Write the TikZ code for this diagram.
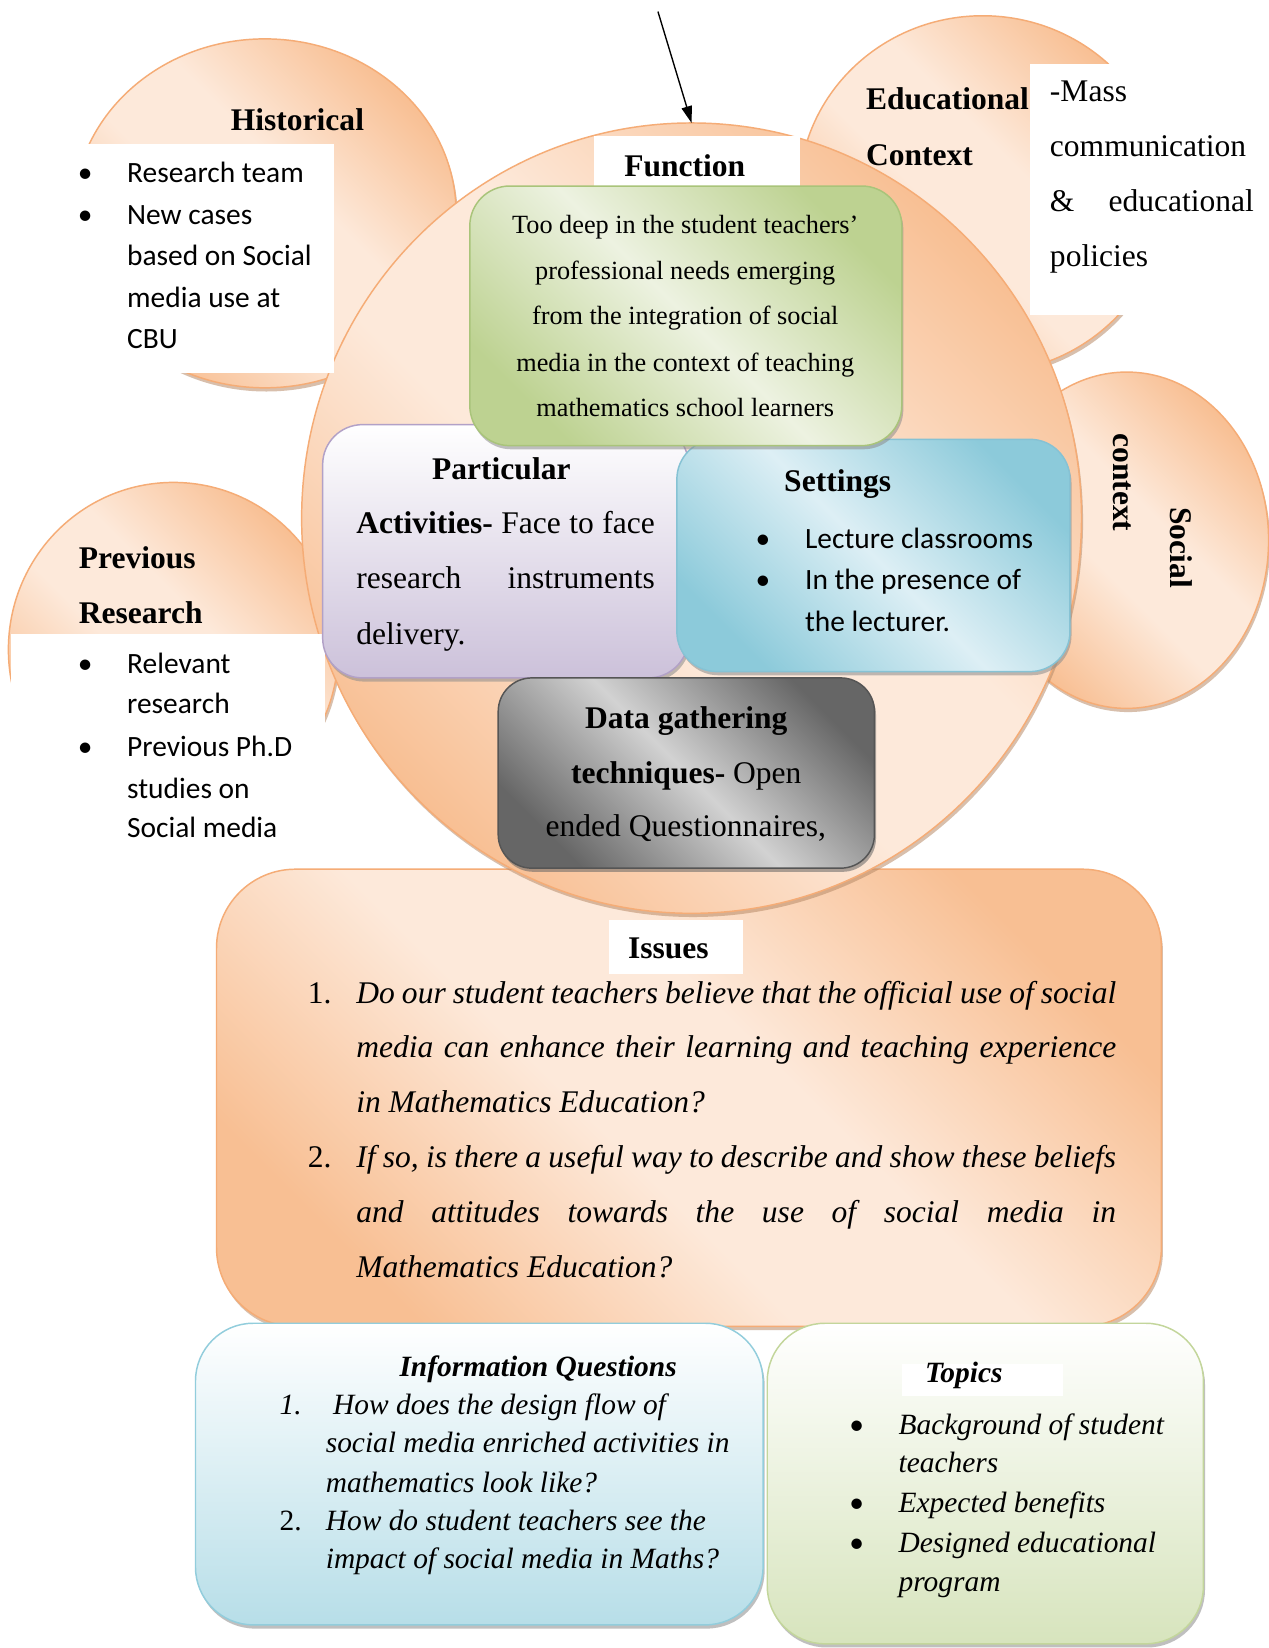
\documentclass[tikz,border=0pt]{standalone}
\usepackage{fontspec}
\setmainfont{Liberation Serif}
\newfontfamily\calibrifont{Carlito}
\usetikzlibrary{shapes.geometric,shadows,arrows.meta}
\definecolor{pkL}{HTML}{FDE9DA}
\definecolor{pkD}{HTML}{F8BF93}
\definecolor{pkB}{HTML}{F5AC76}
\definecolor{pkS}{HTML}{B88B68}
\definecolor{grL}{HTML}{EDF2E1}
\definecolor{grD}{HTML}{BDD291}
\definecolor{grB}{HTML}{A9C47A}
\definecolor{blL}{HTML}{DDEFF5}
\definecolor{blD}{HTML}{8CCADA}
\definecolor{blB}{HTML}{86C2D4}
\definecolor{gyL}{HTML}{D2D2D2}
\definecolor{gyD}{HTML}{666666}
\definecolor{gyB}{HTML}{555555}
\definecolor{puD}{HTML}{CCC1DA}
\definecolor{puB}{HTML}{B2A1C7}
\definecolor{ibD}{HTML}{B7DEE8}
\definecolor{ibB}{HTML}{92CDDC}
\definecolor{tgD}{HTML}{D7E4BD}
\definecolor{tgB}{HTML}{C3D69B}
\pgfdeclarehorizontalshading{peachshade}{100bp}{color(0bp)=(pkD); color(25bp)=(pkD); color(44bp)=(pkL); color(56bp)=(pkL); color(75bp)=(pkD); color(100bp)=(pkD)}
\begin{document}
\begin{tikzpicture}[x=1pt,y=-1pt,
  nosep/.style={inner sep=0pt, outer sep=0pt},
  shad/.style={drop shadow={shadow xshift=1.5pt, shadow yshift=-3.5pt, fill=#1, opacity=0.55}},
  peach/.style={nosep, draw=pkB, line width=1.4pt, shading=peachshade, shading angle=45, shad=pkS},
  greenbox/.style={nosep, draw=grB, line width=1.4pt, rounded corners=38pt, left color=grD, right color=grD, middle color=grL, shading angle=-45, shad=black!45},
  bluebox/.style={nosep, draw=blB, line width=1.4pt, rounded corners=38pt, left color=blD, right color=blD, middle color=blL, shading angle=-45, shad=black!45},
  graybox/.style={nosep, draw=gyB, line width=1.4pt, rounded corners=32pt, left color=gyD, right color=gyD, middle color=gyL, shading angle=-45, shad=black!60},
  purplebox/.style={nosep, draw=puB, line width=1.4pt, rounded corners=38pt, top color=white, bottom color=puD, shad=black!45},
  infobox/.style={nosep, draw=ibB, line width=1.4pt, rounded corners=55pt, top color=white, bottom color=ibD, shad=black!45},
  topicbox/.style={nosep, draw=tgB, line width=1.4pt, rounded corners=55pt, top color=white, bottom color=tgD, shad=black!45},
  whitebox/.style={nosep, fill=white},
  hd/.style={nosep, font=\fontsize{30}{36}\selectfont\bfseries},
  tx/.style={nosep, font=\fontsize{30}{36}\selectfont},
  sm/.style={nosep, font=\fontsize{25}{30}\selectfont},
  cb/.style={nosep, font=\calibrifont\fontsize{28}{34}\selectfont},
  itx/.style={nosep, font=\fontsize{30}{36}\selectfont\itshape},
  its/.style={nosep, font=\fontsize{28}{34}\selectfont\itshape},
  ups/.style={nosep, font=\fontsize{28}{34}\selectfont},
  hdi/.style={nosep, font=\fontsize{28}{34}\selectfont\bfseries\itshape}
]
\useasboundingbox[fill=white] (0,0) rectangle (1207,1568);

% background ellipses
\node[peach, ellipse, minimum width=364pt, minimum height=332pt] (hist) at (252,203) {};
\node[peach, ellipse, minimum width=350pt, minimum height=340pt] (edu) at (935,185) {};
\node[peach, ellipse, minimum width=270pt, minimum height=320pt] (soc) at (1072,514) {};
\node[peach, ellipse, minimum width=314pt, minimum height=318pt] (prev) at (165,618) {};
% issues box
\node[peach, rounded corners=75pt, minimum width=899pt, minimum height=435pt] (iss) at (655.5,1044.5) {};
% main circle
\node[peach, ellipse, minimum width=742pt, minimum height=752pt] (main) at (658,493) {};

% white text panels
\node[whitebox, minimum width=258pt, minimum height=218pt] (histbox) at (189,246) {};
\node[whitebox, minimum width=227pt, minimum height=239pt] (edubox) at (1093.5,180.5) {};
\node[whitebox, minimum width=299pt, minimum height=217pt] (prevbox) at (159.5,711.5) {};
\node[whitebox, minimum width=196pt, minimum height=61pt] (funcbox) at (663,159.5) {};

% inner boxes
\node[purplebox, minimum width=348pt, minimum height=241pt] (part) at (481,524.5) {};
\node[bluebox, minimum width=374pt, minimum height=221pt] (sett) at (831,528.5) {};
\node[greenbox, minimum width=411pt, minimum height=247pt] (func) at (652.5,300.5) {};
\node[graybox, minimum width=358pt, minimum height=181pt] (data) at (653,735.5) {};

\node[whitebox, minimum width=128pt, minimum height=52pt] (isslabel) at (643,901) {};
\node[infobox, minimum width=540pt, minimum height=287pt] (info) at (456,1402.5) {};
\node[topicbox, minimum width=415pt, minimum height=305pt] (topics) at (937.5,1411.5) {};
\node[whitebox, minimum width=153pt, minimum height=30pt] (toplabel) at (934.5,1313) {};

% arrow
\coordinate (arrowstart) at (626,11);
\draw[line width=1.3pt, -{Triangle[length=16pt,width=10pt]}] (arrowstart) -- (main.north);

% Historical
\node[hd, anchor=base] (histT) at (283,124) {Historical};
\node[cb, anchor=base] (hb1) at (81,174) {•};
\node[cb, anchor=base] (hb2) at (81,213.5) {•};
\node[cb, anchor=base west] (hl1) at (121,174) {Research team};
\node[cb, anchor=base west] (hl2) at (121,213.5) {New cases};
\node[cb, anchor=base west] (hl3) at (121,253) {based on Social};
\node[cb, anchor=base west] (hl4) at (121,292.5) {media use at};
\node[cb, anchor=base west] (hl5) at (121,332) {CBU};

% Educational context
\node[hd, anchor=base west] (eduT1) at (824,104) {Educational};
\node[hd, anchor=base west] (eduT2) at (824,157) {Context};
\node[tx, anchor=base west] (el1) at (999,97) {-Mass};
\node[tx, anchor=base west] (el2) at (999,149) {communication};
\node[tx, anchor=base west] (el3) at (999,201) {\makebox[194pt][s]{\& educational}};
\node[tx, anchor=base west] (el4) at (999,254) {policies};

% Social context
\node[hd, rotate=-90] (socT1) at (1067.5,459) {context};
\node[hd, rotate=-90] (socT2) at (1123.5,521) {Social};

% Previous research
\node[hd, anchor=base west] (prevT1) at (75,540.5) {Previous};
\node[hd, anchor=base west] (prevT2) at (75,593) {Research};
\node[cb, anchor=base] (pb1) at (81,640.4) {•};
\node[cb, anchor=base] (pb2) at (81,719.7) {•};
\node[cb, anchor=base west] (pl1) at (121,640.4) {Relevant};
\node[cb, anchor=base west] (pl2) at (121,678.5) {research};
\node[cb, anchor=base west] (pl3) at (121,719.7) {Previous Ph.D};
\node[cb, anchor=base west] (pl4) at (121,759.3) {studies on};
\node[cb, anchor=base west] (pl5) at (121,797.3) {Social media};

% Function
\node[hd, anchor=base] (funcT) at (651.5,168) {Function};
\node[sm, anchor=base] (fl1) at (652,222) {Too deep in the student teachers’};
\node[sm, anchor=base] (fl2) at (652,265.5) {professional needs emerging};
\node[sm, anchor=base] (fl3) at (652,309) {from the integration of social};
\node[sm, anchor=base] (fl4) at (652,353) {media in the context of teaching};
\node[sm, anchor=base] (fl5) at (652,396.5) {mathematics school learners};

% Particular activities
\node[hd, anchor=base] (partT) at (477,456) {Particular};
\node[tx, anchor=base west] (al1) at (339,507.5) {\makebox[284pt][s]{\textbf{Activities-} Face to face}};
\node[tx, anchor=base west] (al2) at (339,559.6) {\makebox[284pt][s]{research instruments}};
\node[tx, anchor=base west] (al3) at (339,613.5) {delivery.};

% Settings
\node[hd, anchor=base] (settT) at (797,467.6) {Settings};
\node[cb, anchor=base] (sb1) at (726,521.5) {•};
\node[cb, anchor=base] (sb2) at (726,561.2) {•};
\node[cb, anchor=base west] (sl1) at (766,521.5) {Lecture classrooms};
\node[cb, anchor=base west] (sl2) at (766,561.2) {In the presence of};
\node[cb, anchor=base west] (sl3) at (766,600.8) {the lecturer.};

% Data gathering
\node[hd, anchor=base] (dataT) at (653,692.7) {Data gathering};
\node[tx, anchor=base] (dl1) at (653,745) {\textbf{techniques-} Open};
\node[tx, anchor=base] (dl2) at (652.5,796) {ended Questionnaires,};

% Issues
\node[hd, anchor=base] (issT) at (636,912.4) {Issues};
\node[tx, anchor=base west] (in1) at (293,954.3) {1.};
\node[itx, anchor=base west] (il1) at (339,954.3) {\makebox[723pt][s]{Do our student teachers believe that the official use of social}};
\node[itx, anchor=base west] (il2) at (339,1006.6) {\makebox[723pt][s]{media can enhance their learning and teaching experience}};
\node[itx, anchor=base west] (il3) at (339,1058.9) {in Mathematics Education?};
\node[tx, anchor=base west] (in2) at (293,1111.2) {2.};
\node[itx, anchor=base west] (il4) at (339,1111.2) {\makebox[723pt][s]{If so, is there a useful way to describe and show these beliefs}};
\node[itx, anchor=base west] (il5) at (339,1163.5) {\makebox[723pt][s]{and attitudes towards the use of social media in}};
\node[itx, anchor=base west] (il6) at (339,1215.8) {Mathematics Education?};

% Information questions
\node[hdi, anchor=base] (infoT) at (512,1309.4) {Information Questions};
\node[its, anchor=base west] (qn1) at (266,1345.8) {1.};
\node[its, anchor=base west] (ql1) at (317,1345.8) {How does the design flow of};
\node[its, anchor=base west] (ql2) at (310,1382.3) {social media enriched activities in};
\node[its, anchor=base west] (ql3) at (310,1419.7) {mathematics look like?};
\node[ups, anchor=base west] (qn2) at (266,1456.2) {2.};
\node[its, anchor=base west] (ql4) at (310,1456.2) {How do student teachers see the};
\node[its, anchor=base west] (ql5) at (310,1492.6) {impact of social media in Maths?};

% Topics
\node[hdi, anchor=base] (topT) at (917,1315.7) {Topics};
\node[cb, anchor=base] (tb1) at (815,1364.8) {•};
\node[cb, anchor=base] (tb2) at (815,1439.3) {•};
\node[cb, anchor=base] (tb3) at (815,1477.4) {•};
\node[its, anchor=base west] (tl1) at (855,1364.8) {Background of student};
\node[its, anchor=base west] (tl2) at (855,1401.3) {teachers};
\node[its, anchor=base west] (tl3) at (855,1439.3) {Expected benefits};
\node[its, anchor=base west] (tl4) at (855,1477.4) {Designed educational};
\node[its, anchor=base west] (tl5) at (855,1513.9) {program};
\end{tikzpicture}
\end{document}
